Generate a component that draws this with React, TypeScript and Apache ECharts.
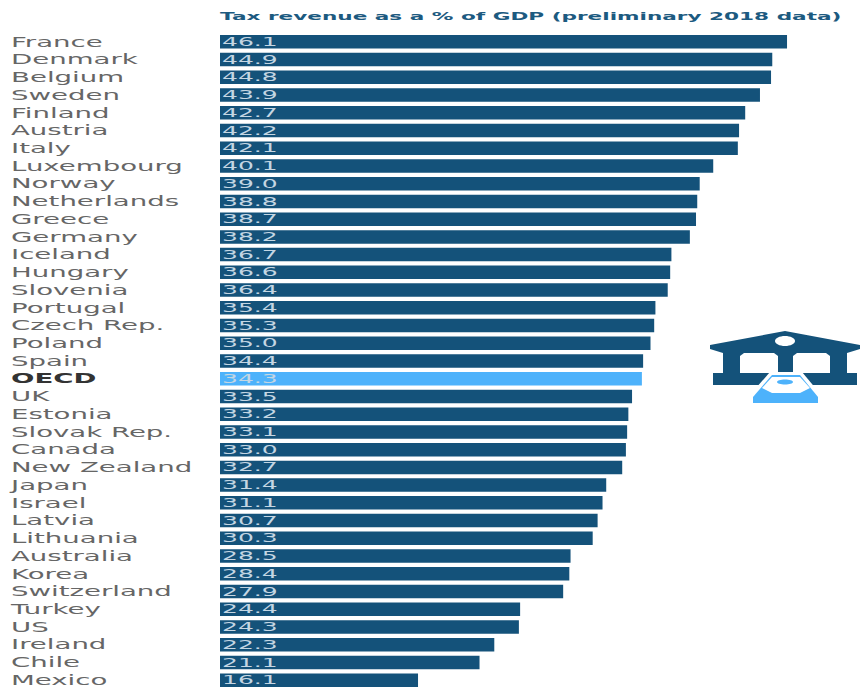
import React, { useEffect, useRef } from "react";
import * as echarts from "echarts";

const categories = ["France","Denmark","Belgium","Sweden","Finland","Austria","Italy","Luxembourg","Norway","Netherlands","Greece","Germany","Iceland","Hungary","Slovenia","Portugal","Czech Rep.","Poland","Spain","OECD","UK","Estonia","Slovak Rep.","Canada","New Zealand","Japan","Israel","Latvia","Lithuania","Australia","Korea","Switzerland","Turkey","US","Ireland","Chile","Mexico"];
const values = [46.1,44.9,44.8,43.9,42.7,42.2,42.1,40.1,39.0,38.8,38.7,38.2,36.7,36.6,36.4,35.4,35.3,35.0,34.4,34.3,33.5,33.2,33.1,33.0,32.7,31.4,31.1,30.7,30.3,28.5,28.4,27.9,24.4,24.3,22.3,21.1,16.1];
const highlight = "OECD";
const titleText = "Tax revenue as a % of GDP (preliminary 2018 data)";

const DARK = "#14527a";
const LIGHT = "#4db2fb";
const S = 2; // the reference is stretched horizontally
const W = 860;
const H = 688;

const ICON_DARK = [[710,345],[785,331],[860,345],[860,349],[847,353],[847,373],[857,373],[857,385],[713,385],[713,373],[723,373],[723,353],[710,349]];
const ICON_HALO = [[770,372],[802,372],[822,396],[822,406],[749,406],[749,396]];
const ICON_COIN = [[772,375],[800,375],[818,397],[818,403],[753,403],[753,397]];
const ICON_COIN_TOP = [[772,377],[800,377],[810,388],[800,393],[772,393],[762,388]];
const ICON_WIN_L = [[740,356],[744,353],[774,353],[778,356],[778,373],[740,373]];
const ICON_WIN_R = [[793,356],[797,353],[826,353],[830,356],[830,373],[793,373]];

function poly(points: number[][], fill: string) {
  return { type: "polygon", scaleX: 1 / S, shape: { points }, style: { fill } };
}

export default function App() {
  const ref = useRef<HTMLDivElement>(null);
  useEffect(() => {
    document.body.style.margin = "0";
    document.body.style.overflow = "hidden";
    const chart = echarts.init(ref.current!, undefined, { renderer: "svg" });
    const font = "DejaVu Sans";
    chart.setOption({
      animation: false,
      title: {
        text: titleText,
        left: 220 / S,
        top: 11,
        padding: 0,
        textStyle: { fontFamily: font, fontSize: 10.8, fontWeight: "bold", color: "#1c5a80" },
      },
      grid: { left: 220 / S, top: 33, width: (W - 220) / S, height: 656, outerBoundsMode: "none" },
      xAxis: { type: "value", min: 0, max: 640 / 12.3, show: false },
      yAxis: {
        type: "category",
        inverse: true,
        data: categories.map((c) => c === highlight
          ? { value: c, textStyle: { fontWeight: "bold", color: "#333", align: "left" } }
          : c),
        axisLine: { show: false },
        axisTick: { show: false },
        axisLabel: {
          align: "left",
          margin: (220 - 11) / S,
          fontFamily: font,
          fontSize: 13.8,
          color: "#666",
          interval: 0,
        },
      },
      series: [{
        type: "bar",
        barWidth: 13.5,
        data: values.map((v, i) => ({
          value: v,
          itemStyle: { color: categories[i] === highlight ? LIGHT : DARK },
        })),
        label: {
          show: true,
          position: "insideLeft",
          distance: 1,
          formatter: (p: any) => Number(p.value).toFixed(1),
          fontFamily: font,
          fontSize: 12.5,
          color: "#c4d6e3",
        },
      }],
      graphic: [
        poly(ICON_DARK, DARK),
        poly(ICON_WIN_L, "#ffffff"),
        poly(ICON_WIN_R, "#ffffff"),
        poly(ICON_HALO, "#ffffff"),
        poly(ICON_COIN, LIGHT),
        poly(ICON_COIN_TOP, "#ffffff"),
        { type: "ellipse", scaleX: 1 / S, shape: { cx: 785, cy: 341, rx: 10, ry: 5 }, style: { fill: "#fff" } },
        { type: "ellipse", scaleX: 1 / S, shape: { cx: 785, cy: 382, rx: 8, ry: 2.5 }, style: { fill: LIGHT } },
      ],
    });
    return () => chart.dispose();
  }, []);
  return (
    <div style={{ width: W, height: H, overflow: "hidden", position: "relative" }}>
      <div ref={ref} style={{ width: W / S, height: H, transform: `scaleX(${S})`, transformOrigin: "0 0" }} />
    </div>
  );
}
